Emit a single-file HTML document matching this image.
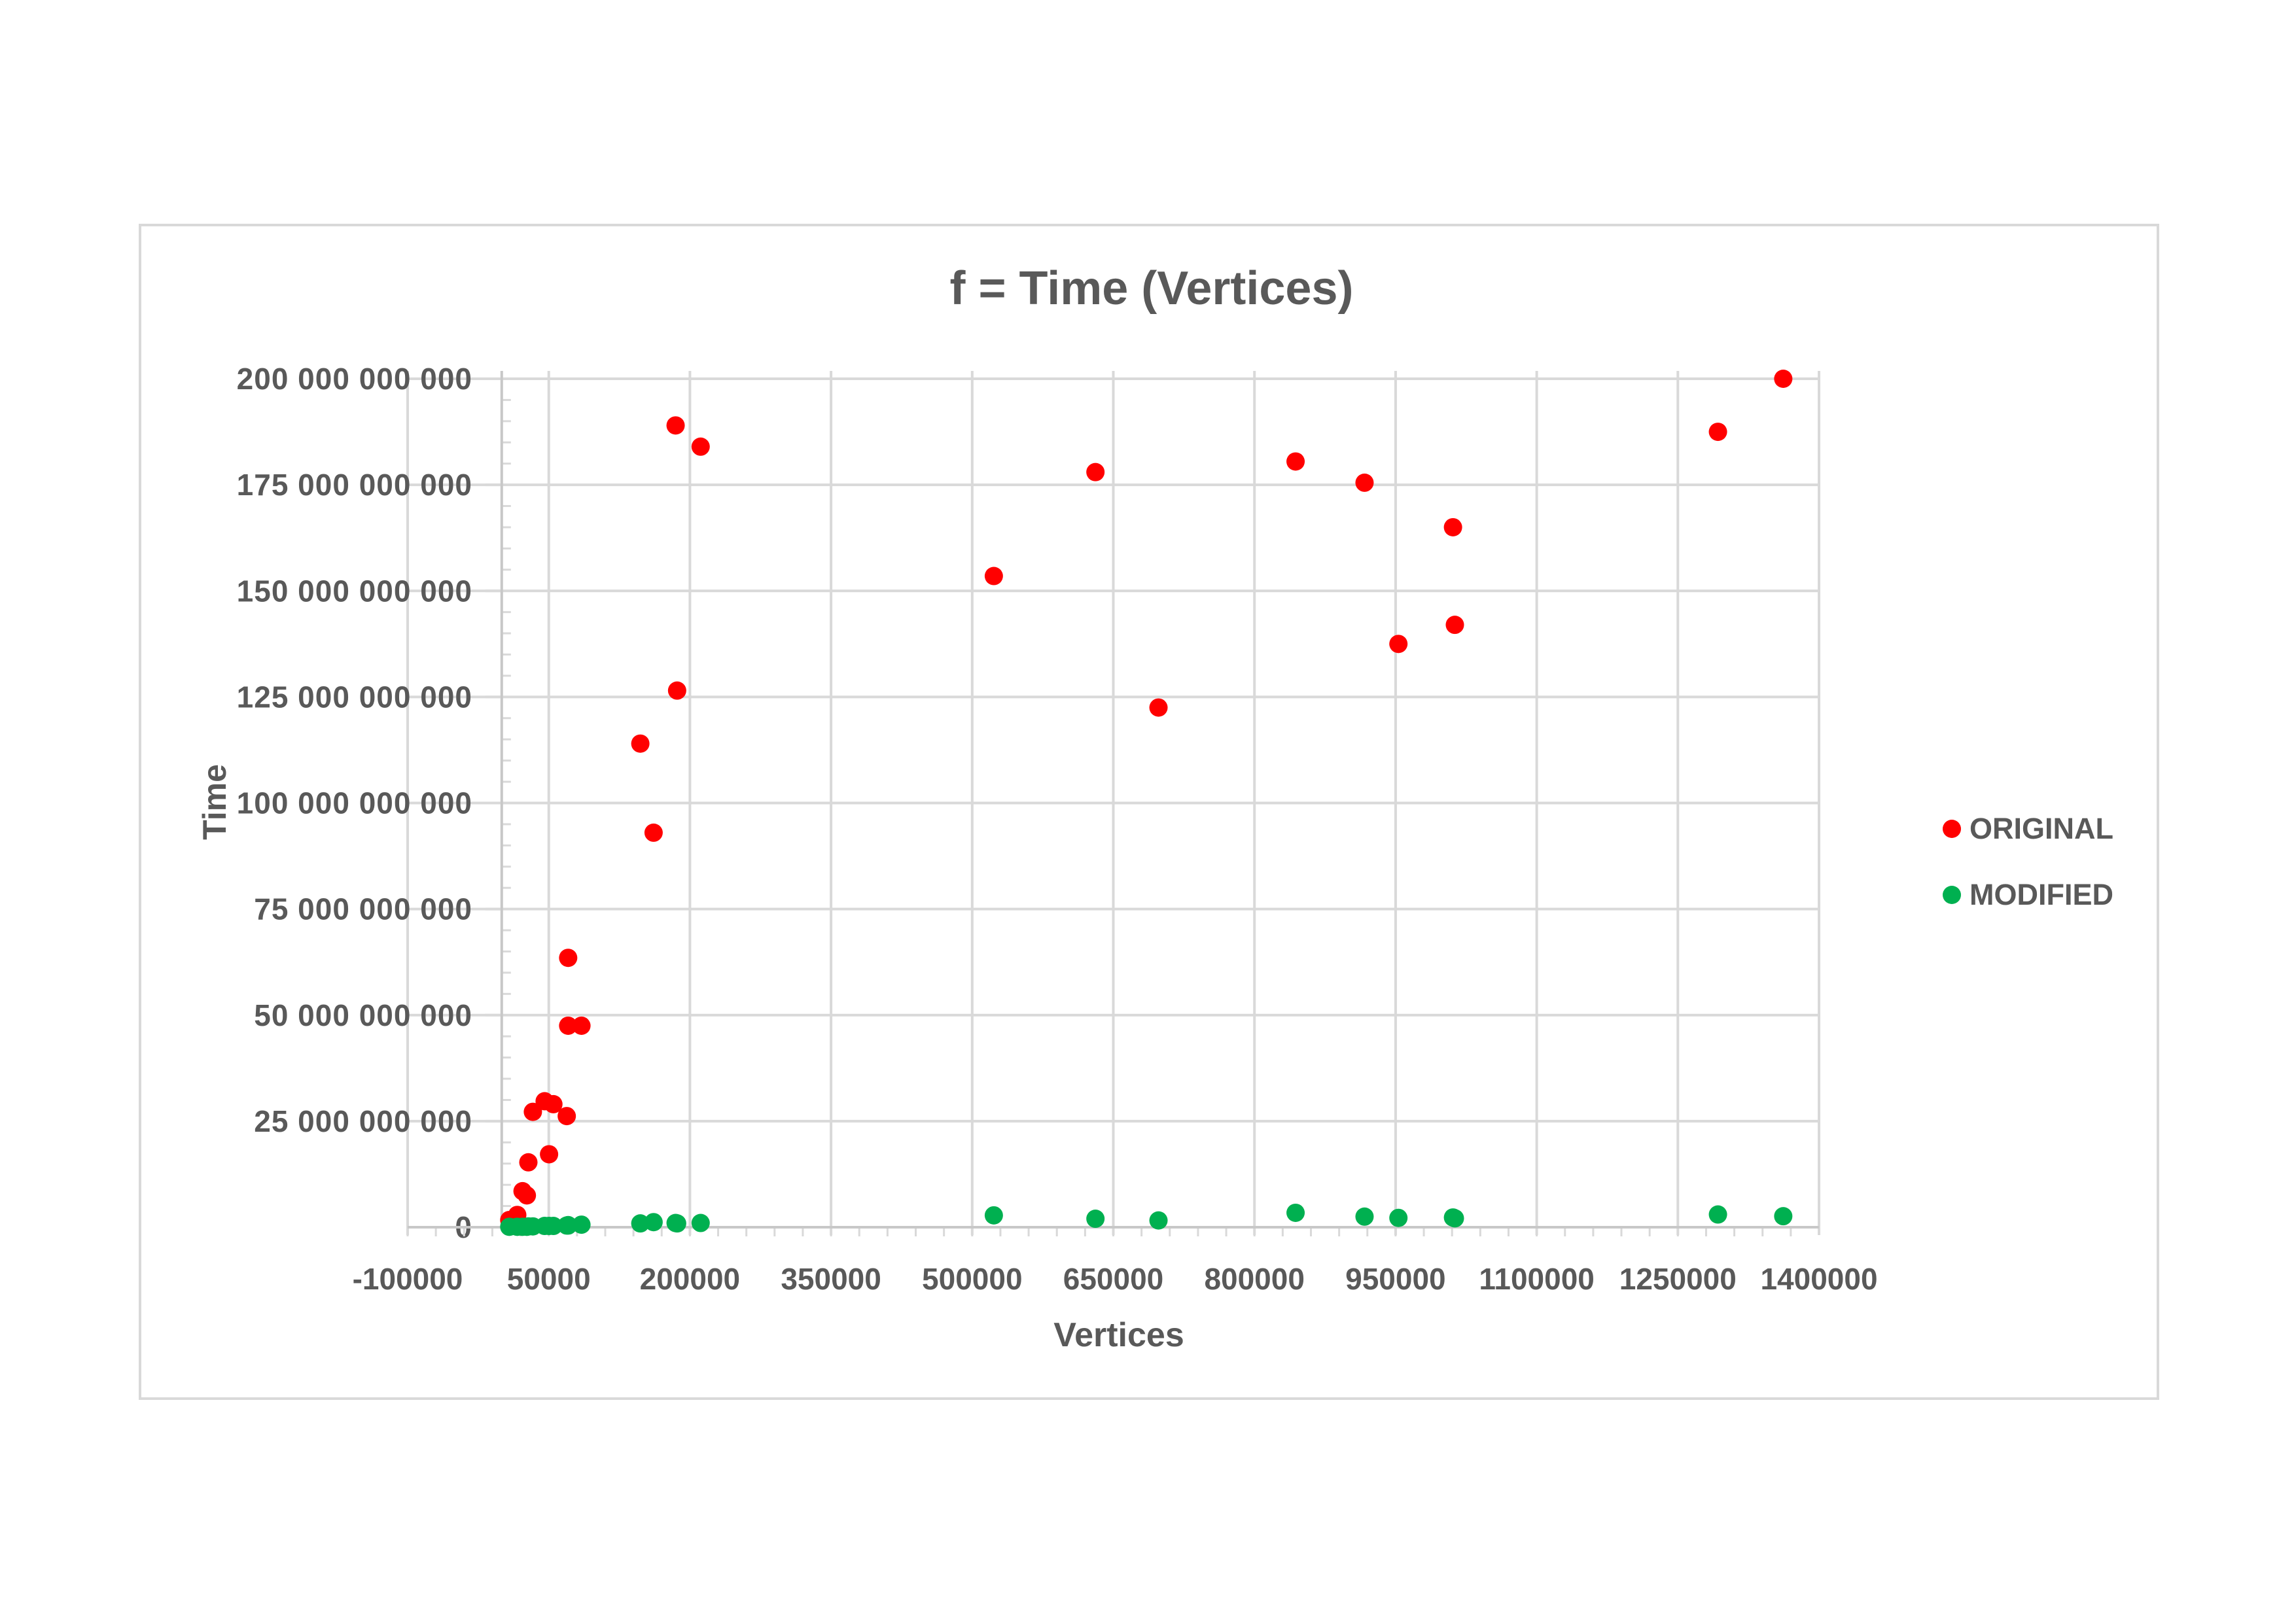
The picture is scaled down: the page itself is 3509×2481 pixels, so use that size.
<!DOCTYPE html>
<html><head><meta charset="utf-8">
<style>
html,body{margin:0;padding:0;background:#fff;}
svg{display:block;font-family:"Liberation Sans",sans-serif;}
</style></head>
<body>
<svg id="chart" width="3509" height="2481" viewBox="0 0 3509 2481" xmlns="http://www.w3.org/2000/svg">
<rect x="214" y="344" width="3084" height="1794" fill="#fff" stroke="#d9d9d9" stroke-width="4"/>
<text x="1760" y="465" text-anchor="middle" font-size="72" font-weight="bold" fill="#595959">f = Time (Vertices)</text>
<g id="grid"></g>
<g id="axes"></g>
<g id="marks"></g>
<text x="1710" y="2058" text-anchor="middle" font-size="52" font-weight="bold" fill="#595959">Vertices</text>
<text transform="translate(345,1226) rotate(-90)" text-anchor="middle" font-size="50" font-weight="bold" fill="#595959">Time</text>
<g>
<circle cx="2983" cy="1267" r="14" fill="#ff0000"/>
<text x="3010" y="1282" font-size="45" font-weight="bold" fill="#595959">ORIGINAL</text>
<circle cx="2983" cy="1368" r="14" fill="#00b050"/>
<text x="3010" y="1383" font-size="45" font-weight="bold" fill="#595959">MODIFIED</text>
</g>
</svg>
<script>
const xTicks = [-100000, 50000, 200000, 350000, 500000, 650000, 800000, 950000, 1100000, 1250000, 1400000];
const yTicks = [0, 25e9, 50e9, 75e9, 100e9, 125e9, 150e9, 175e9, 200e9];
const yTickLabels = ["0","25 000 000 000","50 000 000 000","75 000 000 000","100 000 000 000","125 000 000 000","150 000 000 000","175 000 000 000","200 000 000 000"];
const vertices = [184800,211400,147300,186400,161400,70600,70600,84700,45600,54900,33100,69100,50300,28300,22100,26700,16500,8000,523000,631000,698000,843700,917000,953000,1011000,1013000,1292600,1362000];
const originalTime = [189e9,184e9,114e9,126.5e9,93e9,63.5e9,47.5e9,47.5e9,29.7e9,29e9,27.2e9,26.2e9,17.2e9,15.3e9,8.5e9,7.5e9,2.9e9,1.7e9,153.5e9,178e9,122.5e9,180.5e9,175.5e9,137.5e9,165e9,142e9,187.5e9,200e9];
const modifiedTime = [1.0e9,1.0e9,0.9e9,0.9e9,1.2e9,0.5e9,0.4e9,0.6e9,0.3e9,0.3e9,0.2e9,0.4e9,0.3e9,0.2e9,0.1e9,0.1e9,0.1e9,0.1e9,2.8e9,2.0e9,1.6e9,3.4e9,2.5e9,2.2e9,2.3e9,2.1e9,3.0e9,2.6e9];

const L=623,R=2780,T=579,B=1876, X0=-100000,X1=1400000,Y0=0,Y1=200e9;
const sx=v=>L+(v-X0)/(X1-X0)*(R-L);
const sy=v=>B-(v-Y0)/(Y1-Y0)*(B-T);
const NS="http://www.w3.org/2000/svg";
function mk(tag,attrs,parent,txt){const e=document.createElementNS(NS,tag);for(const k in attrs)e.setAttribute(k,attrs[k]);if(txt!==undefined)e.textContent=txt;parent.appendChild(e);return e;}
const grid=document.getElementById('grid'),axes=document.getElementById('axes'),marks=document.getElementById('marks');
const gc="#d9d9d9";
yTicks.forEach((v,i)=>{
  const y=sy(v);
  const g=mk('line',{x1:L,x2:R,y1:y,y2:y,stroke:gc,'stroke-width':4},grid);
  
  
  const t=mk('text',{x:722,y:y+16,'text-anchor':'end','font-size':46,'font-weight':'bold',fill:'#595959','letter-spacing':1},axes,yTickLabels[i]);
  
  
  const tk=mk('line',{x1:sx(0)-25,x2:sx(0),y1:y,y2:y,stroke:gc,'stroke-width':4},axes);
  
  
});
for(let v=0;v<Y1;v+=5e9){
  const y=sy(v);
  const tk=mk('line',{x1:sx(0),x2:sx(0)+14,y1:y,y2:y,stroke:gc,'stroke-width':3},axes);
  
  
}
xTicks.forEach(v=>{
  const x=sx(v);
  const g=mk('line',{x1:x,x2:x,y1:T-12,y2:B+12,stroke:gc,'stroke-width':4},grid);
  
  
  const t=mk('text',{x:x,y:1971,'text-anchor':'middle','font-size':46,'font-weight':'bold',fill:'#595959'},axes,String(v));
  
  
});
for(let v=X0;v<X1;v+=30000){
  const x=sx(v);
  const tk=mk('line',{x1:x,x2:x,y1:B,y2:B+14,stroke:gc,'stroke-width':3},axes);
  
  
}
const yax=mk('line',{x1:sx(0),x2:sx(0),y1:T-12,y2:B,stroke:"#c8c8c8",'stroke-width':4},axes);


const xax=mk('line',{x1:L,x2:R,y1:B,y2:B,stroke:"#c8c8c8",'stroke-width':4},axes);


vertices.forEach((v,i)=>{
  const c=mk('circle',{cx:sx(v),cy:sy(originalTime[i]),r:14,fill:'#ff0000'},marks);
  
  
});
vertices.forEach((v,i)=>{
  const c=mk('circle',{cx:sx(v),cy:sy(modifiedTime[i]),r:14,fill:'#00b050'},marks);
  
  
});
</script>
</body></html>
